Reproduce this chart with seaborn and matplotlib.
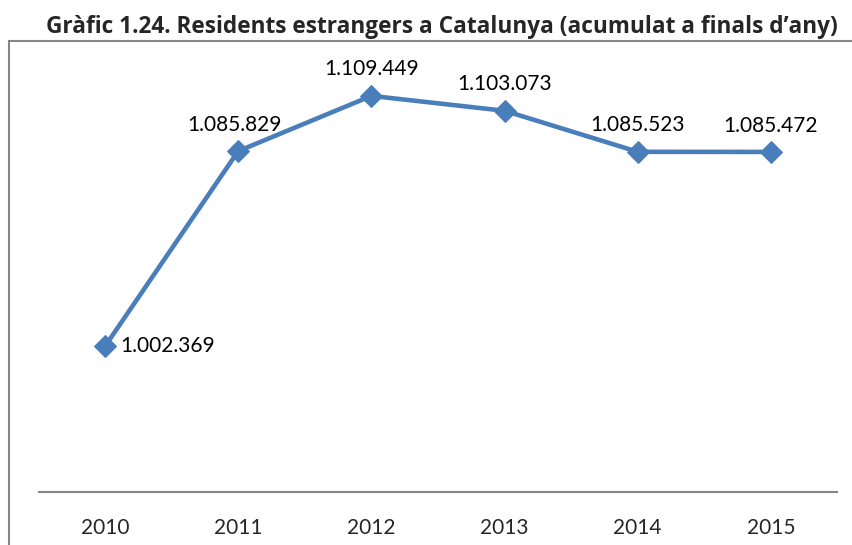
import matplotlib
matplotlib.use("Agg")
import matplotlib.pyplot as plt
from matplotlib.patches import Rectangle
import seaborn as sns
import pandas as pd

years = ["2010", "2011", "2012", "2013", "2014", "2015"]
residents = [1002369, 1085829, 1109449, 1103073, 1085523, 1085472]
value_labels = ["1.002.369", "1.085.829", "1.109.449", "1.103.073", "1.085.523", "1.085.472"]

sns.set_style("white")
plt.rcParams["font.family"] = ["Lato", "DejaVu Sans"]

df = pd.DataFrame({"pos": range(len(years)), "residents": residents})

fig = plt.figure(figsize=(8.53, 5.45), dpi=100)
ax = fig.add_axes([38.5 / 853, 1 - 492 / 545, 799 / 853, (492 - 60) / 545])

line_color = "#4A7EBB"
sns.lineplot(data=df, x="pos", y="residents", ax=ax, color=line_color,
             linewidth=3.3, marker="D", markersize=11, markeredgecolor=line_color)

ax.set_xlim(-0.5, len(years) - 0.5)
ax.set_ylim(940000, 1124800)

# labels: first one to the right, the rest above
for i, (v, lab) in enumerate(zip(residents, value_labels)):
    if i == 0:
        ax.annotate(lab, (i, v), xytext=(11, 0), textcoords="offset points",
                    ha="left", va="center", fontsize=15, color="black")
    else:
        ax.annotate(lab, (i, v), xytext=(-3 if i == 1 else 0, 19), textcoords="offset points",
                    ha="center", va="center", fontsize=15, color="black")

ax.set_xlabel("")
ax.set_ylabel("")
ax.set_yticks([])
for s in ["left", "top", "right"]:
    ax.spines[s].set_visible(False)
ax.spines["bottom"].set_color("#868686")
ax.spines["bottom"].set_linewidth(1.5)

ax.set_xticks(range(len(years)))
ax.set_xticklabels(years, fontsize=15)
ax.tick_params(axis="x", which="major", length=0, pad=19)
ax.set_xticks([i - 0.5 for i in range(len(years) + 1)], minor=True)
ax.tick_params(axis="x", which="minor", length=5, width=1.5, color="#868686", direction="out")

# outer chart frame
fig.patches.append(Rectangle((9 / 853, -0.1), 1.2, 1 - 41 / 545 + 0.1,
                             transform=fig.transFigure, fill=False,
                             edgecolor="#868686", linewidth=1.5))

fig.text(442 / 853, 1 - 27 / 545,
         "Gràfic 1.24. Residents estrangers a Catalunya (acumulat a finals d’any)",
         ha="center", va="center", fontsize=16.3, fontweight="bold",
         family=["Open Sans", "DejaVu Sans"])

fig.savefig("out.png", dpi=100)
